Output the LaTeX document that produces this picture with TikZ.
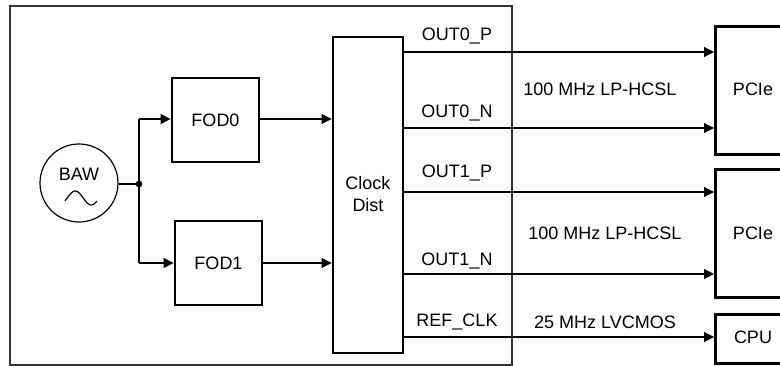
\documentclass[tikz,border=0pt]{standalone}
\usepackage{fontspec}
\setmainfont{Liberation Sans}
\usetikzlibrary{arrows.meta}
\begin{document}
\begin{tikzpicture}[x=1pt,y=-1pt,
  every node/.style={font=\fontsize{18}{20}\selectfont, inner sep=0pt},
  blk/.style={draw, line width=2.8pt, fill=none},
  sig/.style={line width=1.2pt, -{Triangle[length=10pt,width=10pt]}},
  wire/.style={line width=1.2pt},
  lbl/.style={anchor=center}]
\useasboundingbox (0,0) rectangle (780,366);
\clip (0,0) rectangle (780,366);
% outer box
\node[draw, line width=1.6pt, draw=black!80, minimum width=502pt, minimum height=359pt, anchor=north west] (chip) at (9,5) {};
% BAW
\node[draw, circle, line width=1.2pt, minimum size=78pt] (baw) at (79,183) {};
\node[lbl] (bawtxt) at (79,174) {BAW};
\draw[line width=1.2pt] plot[smooth, samples=30, domain=0:1] ({65+32*\x},{198-7*sin(360*\x-25)});
% FODs
\node[blk, minimum width=87pt, minimum height=84pt] (fod0) at (215.5,120) {FOD0};
\node[blk, minimum width=87pt, minimum height=84pt] (fod1) at (218.5,263) {FOD1};
% Clock dist
\node[blk, minimum width=70pt, minimum height=316pt] (cd) at (368,195) {};
\node[lbl, align=center] (cdtxt) at (368,194) {Clock\\[2pt]Dist};
% Right boxes
\node[blk, minimum width=100pt, minimum height=128pt, anchor=north west] (pcie0) at (714,25) {};
\node[lbl] (pcie0t) at (753,89) {PCIe};
\node[blk, minimum width=100pt, minimum height=128pt, anchor=north west] (pcie1) at (714,168) {};
\node[lbl] (pcie1t) at (753,233) {PCIe};
\node[blk, minimum width=100pt, minimum height=49pt, anchor=north west] (cpu) at (714,313) {};
\node[lbl] (cput) at (753,337) {CPU};
% junction
\coordinate (j) at (139,184);
\coordinate (jt) at (139,119);
\coordinate (jb) at (139,263);
\draw[wire] (baw.east |- j) -- (j);
\fill (j) circle (3.4pt);
\draw[wire] (jt) -- (jb);
\draw[sig] (jt) -- (fod0.west |- jt);
\draw[sig] (jb) -- (fod1.west |- jb);
\draw[sig] (fod0.east |- jt) -- (cd.west |- jt);
\draw[sig] (fod1.east |- jb) -- (cd.west |- jb);
% outputs
\coordinate (o0p) at (403,52);
\coordinate (o0n) at (403,128);
\coordinate (o1p) at (403,192);
\coordinate (o1n) at (403,274);
\coordinate (rc) at (403,337);
\draw[sig] (o0p) -- (pcie0.west |- o0p);
\draw[sig] (o0n) -- (pcie0.west |- o0n);
\draw[sig] (o1p) -- (pcie1.west |- o1p);
\draw[sig] (o1n) -- (pcie1.west |- o1n);
\draw[sig] (rc) -- (cpu.west |- rc);
% labels
\node[lbl] (l0p) at (457,36) {OUT0\_P};
\node[lbl] (l0n) at (457,113) {OUT0\_N};
\node[lbl] (l1p) at (457,173) {OUT1\_P};
\node[lbl] (l1n) at (457,261) {OUT1\_N};
\node[lbl] (lrc) at (457,322) {REF\_CLK};
\node[lbl] (f0) at (600,89) {100 MHz LP-HCSL};
\node[lbl] (f1) at (605,233) {100 MHz LP-HCSL};
\node[lbl] (f2) at (605,322) {25 MHz LVCMOS};
\end{tikzpicture}
\end{document}
